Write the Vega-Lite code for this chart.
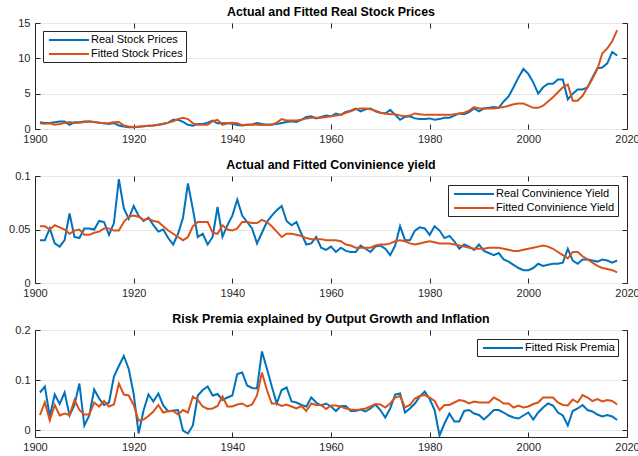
{
  "$schema": "https://vega.github.io/schema/vega-lite/v6.json",
  "background": "white",
  "padding": {"left": 8, "top": 5, "right": 5, "bottom": 5},
  "config": {
    "font": "Liberation Sans",
    "view": {"stroke": "#262626", "strokeWidth": 1},
    "axis": {"labelFont": "Liberation Sans", "labelFontSize": 11, "labelColor": "#262626", "domain": false, "tickColor": "#262626", "tickSize": -5, "title": null, "gridColor": "#e6e6e6", "gridWidth": 1},
    "axisX": {"labelFlush": false},
    "title": {"font": "Liberation Sans", "fontSize": 12.4, "fontWeight": "bold", "color": "#000000", "anchor": "middle", "offset": -1},
    "legend": {"fillColor": "white", "strokeColor": "#262626", "strokeWidth": 1, "padding": 3, "symbolType": "M0,0H8", "symbolSize": 100, "symbolStrokeWidth": 2, "labelFont": "Liberation Sans", "labelFontSize": 11, "labelColor": "#000000", "labelLimit": 300, "labelOffset": 36, "symbolOffset": -3, "rowPadding": 3, "title": null}
  },
  "datasets": {
    "p1": [
      {"Year":1901,"Real":0.94,"Fitted":0.8},{"Year":1902,"Real":0.85,"Fitted":0.75},{"Year":1903,"Real":0.85,"Fitted":0.8},{"Year":1904,"Real":0.95,"Fitted":0.6},{"Year":1905,"Real":1.05,"Fitted":0.7},{"Year":1906,"Real":1.05,"Fitted":0.85},{"Year":1907,"Real":0.6,"Fitted":1.0},{"Year":1908,"Real":0.95,"Fitted":0.85},{"Year":1909,"Real":0.95,"Fitted":0.9},{"Year":1910,"Real":1.05,"Fitted":1.0},
      {"Year":1911,"Real":1.05,"Fitted":1.05},{"Year":1912,"Real":1.0,"Fitted":1.0},{"Year":1913,"Real":0.9,"Fitted":0.9},{"Year":1914,"Real":0.8,"Fitted":0.8},{"Year":1915,"Real":0.7,"Fitted":0.85},{"Year":1916,"Real":0.85,"Fitted":0.95},{"Year":1917,"Real":0.5,"Fitted":1.0},{"Year":1918,"Real":0.35,"Fitted":0.5},{"Year":1919,"Real":0.25,"Fitted":0.35},{"Year":1920,"Real":0.25,"Fitted":0.3},
      {"Year":1921,"Real":0.3,"Fitted":0.35},{"Year":1922,"Real":0.4,"Fitted":0.4},{"Year":1923,"Real":0.45,"Fitted":0.45},{"Year":1924,"Real":0.5,"Fitted":0.5},{"Year":1925,"Real":0.6,"Fitted":0.6},{"Year":1926,"Real":0.7,"Fitted":0.75},{"Year":1927,"Real":0.9,"Fitted":0.9},{"Year":1928,"Real":1.3,"Fitted":1.1},{"Year":1929,"Real":1.3,"Fitted":1.4},{"Year":1930,"Real":1.0,"Fitted":1.6},
      {"Year":1931,"Real":0.6,"Fitted":1.4},{"Year":1932,"Real":0.45,"Fitted":0.8},{"Year":1933,"Real":0.7,"Fitted":0.6},{"Year":1934,"Real":0.7,"Fitted":0.6},{"Year":1935,"Real":0.9,"Fitted":0.6},{"Year":1936,"Real":1.2,"Fitted":1.1},{"Year":1937,"Real":0.8,"Fitted":1.3},{"Year":1938,"Real":0.8,"Fitted":0.6},{"Year":1939,"Real":0.8,"Fitted":0.8},{"Year":1940,"Real":0.75,"Fitted":0.9},
      {"Year":1941,"Real":0.55,"Fitted":0.8},{"Year":1942,"Real":0.5,"Fitted":0.55},{"Year":1943,"Real":0.6,"Fitted":0.6},{"Year":1944,"Real":0.65,"Fitted":0.65},{"Year":1945,"Real":0.85,"Fitted":0.6},{"Year":1946,"Real":0.7,"Fitted":0.55},{"Year":1947,"Real":0.6,"Fitted":0.6},{"Year":1948,"Real":0.65,"Fitted":0.6},{"Year":1949,"Real":0.7,"Fitted":0.9},{"Year":1950,"Real":0.85,"Fitted":1.4},
      {"Year":1951,"Real":1.0,"Fitted":1.2},{"Year":1952,"Real":1.1,"Fitted":1.2},{"Year":1953,"Real":1.0,"Fitted":1.2},{"Year":1954,"Real":1.3,"Fitted":1.3},{"Year":1955,"Real":1.7,"Fitted":1.5},{"Year":1956,"Real":1.8,"Fitted":1.6},{"Year":1957,"Real":1.5,"Fitted":1.6},{"Year":1958,"Real":1.7,"Fitted":1.6},{"Year":1959,"Real":1.9,"Fitted":1.7},{"Year":1960,"Real":1.8,"Fitted":1.8},
      {"Year":1961,"Real":2.2,"Fitted":1.9},{"Year":1962,"Real":2.0,"Fitted":2.0},{"Year":1963,"Real":2.4,"Fitted":2.3},{"Year":1964,"Real":2.6,"Fitted":2.5},{"Year":1965,"Real":2.9,"Fitted":2.8},{"Year":1966,"Real":2.5,"Fitted":2.9},{"Year":1967,"Real":2.8,"Fitted":2.9},{"Year":1968,"Real":2.9,"Fitted":2.8},{"Year":1969,"Real":2.5,"Fitted":2.6},{"Year":1970,"Real":2.3,"Fitted":2.3},
      {"Year":1971,"Real":2.2,"Fitted":2.2},{"Year":1972,"Real":2.7,"Fitted":2.1},{"Year":1973,"Real":2.0,"Fitted":2.1},{"Year":1974,"Real":1.3,"Fitted":1.9},{"Year":1975,"Real":1.7,"Fitted":1.8},{"Year":1976,"Real":1.8,"Fitted":1.9},{"Year":1977,"Real":1.5,"Fitted":2.2},{"Year":1978,"Real":1.4,"Fitted":2.1},{"Year":1979,"Real":1.4,"Fitted":2.0},{"Year":1980,"Real":1.5,"Fitted":2.0},
      {"Year":1981,"Real":1.3,"Fitted":2.0},{"Year":1982,"Real":1.4,"Fitted":2.0},{"Year":1983,"Real":1.6,"Fitted":2.0},{"Year":1984,"Real":1.6,"Fitted":2.0},{"Year":1985,"Real":1.9,"Fitted":2.1},{"Year":1986,"Real":2.2,"Fitted":2.2},{"Year":1987,"Real":2.1,"Fitted":2.3},{"Year":1988,"Real":2.4,"Fitted":2.6},{"Year":1989,"Real":2.9,"Fitted":3.1},{"Year":1990,"Real":2.5,"Fitted":2.9},
      {"Year":1991,"Real":2.9,"Fitted":2.9},{"Year":1992,"Real":3.0,"Fitted":2.9},{"Year":1993,"Real":3.1,"Fitted":2.9},{"Year":1994,"Real":3.0,"Fitted":3.0},{"Year":1995,"Real":3.9,"Fitted":3.1},{"Year":1996,"Real":4.6,"Fitted":3.3},{"Year":1997,"Real":5.9,"Fitted":3.5},{"Year":1998,"Real":7.3,"Fitted":3.6},{"Year":1999,"Real":8.5,"Fitted":3.6},{"Year":2000,"Real":7.8,"Fitted":3.3},
      {"Year":2001,"Real":6.6,"Fitted":3.0},{"Year":2002,"Real":5.0,"Fitted":3.0},{"Year":2003,"Real":5.9,"Fitted":3.3},{"Year":2004,"Real":6.4,"Fitted":3.9},{"Year":2005,"Real":6.4,"Fitted":4.5},{"Year":2006,"Real":7.0,"Fitted":5.2},{"Year":2007,"Real":7.0,"Fitted":5.9},{"Year":2008,"Real":4.2,"Fitted":6.3},{"Year":2009,"Real":5.0,"Fitted":4.0},{"Year":2010,"Real":5.6,"Fitted":4.0},
      {"Year":2011,"Real":5.6,"Fitted":4.7},{"Year":2012,"Real":5.9,"Fitted":5.9},{"Year":2013,"Real":7.3,"Fitted":7.1},{"Year":2014,"Real":8.6,"Fitted":8.5},{"Year":2015,"Real":8.7,"Fitted":10.7},{"Year":2016,"Real":9.3,"Fitted":11.4},{"Year":2017,"Real":10.9,"Fitted":12.4},{"Year":2018,"Real":10.4,"Fitted":14.0}
    ],
    "p2": [
      {"Year":1901,"Real":0.040,"Fitted":0.053},{"Year":1902,"Real":0.040,"Fitted":0.053},{"Year":1903,"Real":0.051,"Fitted":0.050},{"Year":1904,"Real":0.037,"Fitted":0.054},{"Year":1905,"Real":0.034,"Fitted":0.052},{"Year":1906,"Real":0.040,"Fitted":0.050},{"Year":1907,"Real":0.065,"Fitted":0.046},{"Year":1908,"Real":0.043,"Fitted":0.049},{"Year":1909,"Real":0.042,"Fitted":0.050},{"Year":1910,"Real":0.051,"Fitted":0.045},
      {"Year":1911,"Real":0.051,"Fitted":0.045},{"Year":1912,"Real":0.050,"Fitted":0.047},{"Year":1913,"Real":0.058,"Fitted":0.048},{"Year":1914,"Real":0.057,"Fitted":0.051},{"Year":1915,"Real":0.045,"Fitted":0.051},{"Year":1916,"Real":0.056,"Fitted":0.049},{"Year":1917,"Real":0.097,"Fitted":0.049},{"Year":1918,"Real":0.070,"Fitted":0.057},{"Year":1919,"Real":0.060,"Fitted":0.062},{"Year":1920,"Real":0.072,"Fitted":0.063},
      {"Year":1921,"Real":0.063,"Fitted":0.062},{"Year":1922,"Real":0.058,"Fitted":0.059},{"Year":1923,"Real":0.061,"Fitted":0.060},{"Year":1924,"Real":0.054,"Fitted":0.058},{"Year":1925,"Real":0.048,"Fitted":0.057},{"Year":1926,"Real":0.050,"Fitted":0.053},{"Year":1927,"Real":0.042,"Fitted":0.049},{"Year":1928,"Real":0.036,"Fitted":0.046},{"Year":1929,"Real":0.046,"Fitted":0.043},{"Year":1930,"Real":0.061,"Fitted":0.040},
      {"Year":1931,"Real":0.093,"Fitted":0.043},{"Year":1932,"Real":0.069,"Fitted":0.053},{"Year":1933,"Real":0.043,"Fitted":0.057},{"Year":1934,"Real":0.046,"Fitted":0.057},{"Year":1935,"Real":0.036,"Fitted":0.057},{"Year":1936,"Real":0.043,"Fitted":0.047},{"Year":1937,"Real":0.071,"Fitted":0.046},{"Year":1938,"Real":0.043,"Fitted":0.054},{"Year":1939,"Real":0.054,"Fitted":0.050},{"Year":1940,"Real":0.063,"Fitted":0.049},
      {"Year":1941,"Real":0.078,"Fitted":0.051},{"Year":1942,"Real":0.063,"Fitted":0.057},{"Year":1943,"Real":0.057,"Fitted":0.057},{"Year":1944,"Real":0.051,"Fitted":0.056},{"Year":1945,"Real":0.037,"Fitted":0.056},{"Year":1946,"Real":0.047,"Fitted":0.059},{"Year":1947,"Real":0.057,"Fitted":0.057},{"Year":1948,"Real":0.063,"Fitted":0.053},{"Year":1949,"Real":0.068,"Fitted":0.048},{"Year":1950,"Real":0.072,"Fitted":0.043},
      {"Year":1951,"Real":0.058,"Fitted":0.046},{"Year":1952,"Real":0.054,"Fitted":0.046},{"Year":1953,"Real":0.057,"Fitted":0.045},{"Year":1954,"Real":0.046,"Fitted":0.044},{"Year":1955,"Real":0.036,"Fitted":0.042},{"Year":1956,"Real":0.037,"Fitted":0.041},{"Year":1957,"Real":0.043,"Fitted":0.041},{"Year":1958,"Real":0.033,"Fitted":0.041},{"Year":1959,"Real":0.031,"Fitted":0.040},{"Year":1960,"Real":0.034,"Fitted":0.040},
      {"Year":1961,"Real":0.029,"Fitted":0.040},{"Year":1962,"Real":0.033,"Fitted":0.039},{"Year":1963,"Real":0.030,"Fitted":0.036},{"Year":1964,"Real":0.029,"Fitted":0.035},{"Year":1965,"Real":0.029,"Fitted":0.033},{"Year":1966,"Real":0.035,"Fitted":0.033},{"Year":1967,"Real":0.032,"Fitted":0.033},{"Year":1968,"Real":0.029,"Fitted":0.033},{"Year":1969,"Real":0.034,"Fitted":0.035},{"Year":1970,"Real":0.035,"Fitted":0.036},
      {"Year":1971,"Real":0.032,"Fitted":0.036},{"Year":1972,"Real":0.026,"Fitted":0.037},{"Year":1973,"Real":0.035,"Fitted":0.039},{"Year":1974,"Real":0.053,"Fitted":0.040},{"Year":1975,"Real":0.040,"Fitted":0.039},{"Year":1976,"Real":0.040,"Fitted":0.037},{"Year":1977,"Real":0.049,"Fitted":0.036},{"Year":1978,"Real":0.052,"Fitted":0.037},{"Year":1979,"Real":0.051,"Fitted":0.038},{"Year":1980,"Real":0.045,"Fitted":0.039},
      {"Year":1981,"Real":0.053,"Fitted":0.038},{"Year":1982,"Real":0.049,"Fitted":0.037},{"Year":1983,"Real":0.042,"Fitted":0.037},{"Year":1984,"Real":0.044,"Fitted":0.037},{"Year":1985,"Real":0.039,"Fitted":0.036},{"Year":1986,"Real":0.032,"Fitted":0.035},{"Year":1987,"Real":0.036,"Fitted":0.034},{"Year":1988,"Real":0.034,"Fitted":0.033},{"Year":1989,"Real":0.031,"Fitted":0.032},{"Year":1990,"Real":0.036,"Fitted":0.032},
      {"Year":1991,"Real":0.030,"Fitted":0.032},{"Year":1992,"Real":0.028,"Fitted":0.033},{"Year":1993,"Real":0.026,"Fitted":0.033},{"Year":1994,"Real":0.028,"Fitted":0.033},{"Year":1995,"Real":0.022,"Fitted":0.032},{"Year":1996,"Real":0.020,"Fitted":0.031},{"Year":1997,"Real":0.017,"Fitted":0.030},{"Year":1998,"Real":0.014,"Fitted":0.030},{"Year":1999,"Real":0.012,"Fitted":0.031},{"Year":2000,"Real":0.012,"Fitted":0.032},
      {"Year":2001,"Real":0.014,"Fitted":0.033},{"Year":2002,"Real":0.018,"Fitted":0.034},{"Year":2003,"Real":0.016,"Fitted":0.035},{"Year":2004,"Real":0.017,"Fitted":0.034},{"Year":2005,"Real":0.018,"Fitted":0.032},{"Year":2006,"Real":0.018,"Fitted":0.029},{"Year":2007,"Real":0.019,"Fitted":0.026},{"Year":2008,"Real":0.032,"Fitted":0.023},{"Year":2009,"Real":0.021,"Fitted":0.029},{"Year":2010,"Real":0.018,"Fitted":0.029},
      {"Year":2011,"Real":0.022,"Fitted":0.025},{"Year":2012,"Real":0.022,"Fitted":0.022},{"Year":2013,"Real":0.021,"Fitted":0.019},{"Year":2014,"Real":0.020,"Fitted":0.016},{"Year":2015,"Real":0.022,"Fitted":0.014},{"Year":2016,"Real":0.021,"Fitted":0.013},{"Year":2017,"Real":0.019,"Fitted":0.012},{"Year":2018,"Real":0.021,"Fitted":0.010}
    ],
    "p3": [
      {"Year":1901,"Real":0.075,"Fitted":0.030},{"Year":1902,"Real":0.087,"Fitted":0.055},{"Year":1903,"Real":0.027,"Fitted":0.019},{"Year":1904,"Real":0.071,"Fitted":0.050},{"Year":1905,"Real":0.052,"Fitted":0.029},{"Year":1906,"Real":0.075,"Fitted":0.033},{"Year":1907,"Real":0.029,"Fitted":0.030},{"Year":1908,"Real":0.050,"Fitted":0.060},{"Year":1909,"Real":0.093,"Fitted":0.040},{"Year":1910,"Real":0.009,"Fitted":0.031},
      {"Year":1911,"Real":0.029,"Fitted":0.031},{"Year":1912,"Real":0.081,"Fitted":0.055},{"Year":1913,"Real":0.063,"Fitted":0.047},{"Year":1914,"Real":0.050,"Fitted":0.058},{"Year":1915,"Real":0.055,"Fitted":0.047},{"Year":1916,"Real":0.107,"Fitted":0.051},{"Year":1917,"Real":0.128,"Fitted":0.093},{"Year":1918,"Real":0.148,"Fitted":0.071},{"Year":1919,"Real":0.122,"Fitted":0.069},{"Year":1920,"Real":0.072,"Fitted":0.050},
      {"Year":1921,"Real":-0.007,"Fitted":0.019},{"Year":1922,"Real":0.039,"Fitted":0.021},{"Year":1923,"Real":0.071,"Fitted":0.028},{"Year":1924,"Real":0.057,"Fitted":0.037},{"Year":1925,"Real":0.073,"Fitted":0.050},{"Year":1926,"Real":0.049,"Fitted":0.035},{"Year":1927,"Real":0.037,"Fitted":0.038},{"Year":1928,"Real":0.039,"Fitted":0.038},{"Year":1929,"Real":0.040,"Fitted":0.031},{"Year":1930,"Real":-0.001,"Fitted":0.040},
      {"Year":1931,"Real":-0.007,"Fitted":0.035},{"Year":1932,"Real":0.009,"Fitted":0.067},{"Year":1933,"Real":0.069,"Fitted":0.060},{"Year":1934,"Real":0.080,"Fitted":0.047},{"Year":1935,"Real":0.087,"Fitted":0.042},{"Year":1936,"Real":0.069,"Fitted":0.043},{"Year":1937,"Real":0.072,"Fitted":0.048},{"Year":1938,"Real":0.060,"Fitted":0.067},{"Year":1939,"Real":0.065,"Fitted":0.047},{"Year":1940,"Real":0.069,"Fitted":0.047},
      {"Year":1941,"Real":0.112,"Fitted":0.051},{"Year":1942,"Real":0.115,"Fitted":0.053},{"Year":1943,"Real":0.089,"Fitted":0.047},{"Year":1944,"Real":0.084,"Fitted":0.051},{"Year":1945,"Real":0.083,"Fitted":0.069},{"Year":1946,"Real":0.157,"Fitted":0.115},{"Year":1947,"Real":0.123,"Fitted":0.080},{"Year":1948,"Real":0.087,"Fitted":0.053},{"Year":1949,"Real":0.053,"Fitted":0.053},{"Year":1950,"Real":0.080,"Fitted":0.048},
      {"Year":1951,"Real":0.085,"Fitted":0.051},{"Year":1952,"Real":0.057,"Fitted":0.047},{"Year":1953,"Real":0.055,"Fitted":0.043},{"Year":1954,"Real":0.050,"Fitted":0.048},{"Year":1955,"Real":0.047,"Fitted":0.038},{"Year":1956,"Real":0.065,"Fitted":0.053},{"Year":1957,"Real":0.055,"Fitted":0.050},{"Year":1958,"Real":0.049,"Fitted":0.050},{"Year":1959,"Real":0.053,"Fitted":0.042},{"Year":1960,"Real":0.047,"Fitted":0.049},
      {"Year":1961,"Real":0.038,"Fitted":0.049},{"Year":1962,"Real":0.048,"Fitted":0.047},{"Year":1963,"Real":0.048,"Fitted":0.043},{"Year":1964,"Real":0.038,"Fitted":0.041},{"Year":1965,"Real":0.038,"Fitted":0.040},{"Year":1966,"Real":0.041,"Fitted":0.041},{"Year":1967,"Real":0.037,"Fitted":0.043},{"Year":1968,"Real":0.043,"Fitted":0.047},{"Year":1969,"Real":0.051,"Fitted":0.052},{"Year":1970,"Real":0.040,"Fitted":0.051},
      {"Year":1971,"Real":0.025,"Fitted":0.045},{"Year":1972,"Real":0.043,"Fitted":0.053},{"Year":1973,"Real":0.071,"Fitted":0.065},{"Year":1974,"Real":0.073,"Fitted":0.068},{"Year":1975,"Real":0.035,"Fitted":0.045},{"Year":1976,"Real":0.043,"Fitted":0.050},{"Year":1977,"Real":0.053,"Fitted":0.063},{"Year":1978,"Real":0.067,"Fitted":0.068},{"Year":1979,"Real":0.077,"Fitted":0.070},{"Year":1980,"Real":0.062,"Fitted":0.065},
      {"Year":1981,"Real":0.040,"Fitted":0.058},{"Year":1982,"Real":-0.011,"Fitted":0.040},{"Year":1983,"Real":0.013,"Fitted":0.050},{"Year":1984,"Real":0.033,"Fitted":0.050},{"Year":1985,"Real":0.017,"Fitted":0.055},{"Year":1986,"Real":0.017,"Fitted":0.060},{"Year":1987,"Real":0.038,"Fitted":0.058},{"Year":1988,"Real":0.040,"Fitted":0.053},{"Year":1989,"Real":0.033,"Fitted":0.057},{"Year":1990,"Real":0.030,"Fitted":0.055},
      {"Year":1991,"Real":0.021,"Fitted":0.055},{"Year":1992,"Real":0.030,"Fitted":0.055},{"Year":1993,"Real":0.040,"Fitted":0.065},{"Year":1994,"Real":0.040,"Fitted":0.060},{"Year":1995,"Real":0.035,"Fitted":0.053},{"Year":1996,"Real":0.029,"Fitted":0.053},{"Year":1997,"Real":0.025,"Fitted":0.045},{"Year":1998,"Real":0.023,"Fitted":0.049},{"Year":1999,"Real":0.029,"Fitted":0.045},{"Year":2000,"Real":0.035,"Fitted":0.047},
      {"Year":2001,"Real":0.021,"Fitted":0.052},{"Year":2002,"Real":0.035,"Fitted":0.055},{"Year":2003,"Real":0.045,"Fitted":0.065},{"Year":2004,"Real":0.053,"Fitted":0.065},{"Year":2005,"Real":0.049,"Fitted":0.065},{"Year":2006,"Real":0.035,"Fitted":0.055},{"Year":2007,"Real":0.029,"Fitted":0.050},{"Year":2008,"Real":0.009,"Fitted":0.049},{"Year":2009,"Real":0.038,"Fitted":0.061},{"Year":2010,"Real":0.043,"Fitted":0.055},
      {"Year":2011,"Real":0.050,"Fitted":0.070},{"Year":2012,"Real":0.040,"Fitted":0.065},{"Year":2013,"Real":0.037,"Fitted":0.058},{"Year":2014,"Real":0.031,"Fitted":0.062},{"Year":2015,"Real":0.027,"Fitted":0.057},{"Year":2016,"Real":0.030,"Fitted":0.060},{"Year":2017,"Real":0.027,"Fitted":0.058},{"Year":2018,"Real":0.020,"Fitted":0.051}
    ]
  },
  "bounds": "flush",
  "spacing": 47,
  "vconcat": [
    {
      "title": "Actual and Fitted Real Stock Prices",
      "width": 592, "height": 106,
      "data": {"name": "p1"},
      "layer": [
        {
          "mark": {"type": "line", "strokeWidth": 2, "clip": true},
          "encoding": {
            "x": {"field": "Year", "type": "quantitative", "scale": {"domain": [1900, 2020], "nice": false}, "axis": {"orient": "bottom", "values": [1900, 1920, 1940, 1960, 1980, 2000, 2020], "format": "d", "grid": false, "labelPadding": 9}},
            "y": {"field": "Real", "type": "quantitative", "scale": {"domain": [0, 15], "nice": false, "zero": false}, "axis": {"orient": "left", "values": [0, 5, 10, 15], "grid": true, "labelPadding": 10}},
            "color": {"datum": "Real Stock Prices", "type": "nominal", "scale": {"domain": ["Real Stock Prices", "Fitted Stock Prices"], "range": ["#0072BD", "#D95319"]}, "legend": {"orient": "top-left", "offset": 8}}
          }
        },
        {
          "mark": {"type": "line", "strokeWidth": 2, "clip": true},
          "encoding": {
            "x": {"field": "Year", "type": "quantitative", "axis": {"orient": "top", "values": [1900, 1920, 1940, 1960, 1980, 2000, 2020], "labels": false, "grid": false}},
            "y": {"field": "Fitted", "type": "quantitative", "axis": {"orient": "right", "values": [0, 5, 10, 15], "labels": false, "grid": false}},
            "color": {"datum": "Fitted Stock Prices", "type": "nominal"}
          }
        }
      ],
      "resolve": {"axis": {"x": "independent", "y": "independent"}}
    },
    {
      "title": "Actual and Fitted Convinience yield",
      "width": 592, "height": 107,
      "data": {"name": "p2"},
      "layer": [
        {
          "mark": {"type": "line", "strokeWidth": 2, "clip": true},
          "encoding": {
            "x": {"field": "Year", "type": "quantitative", "scale": {"domain": [1900, 2020], "nice": false}, "axis": {"orient": "bottom", "values": [1900, 1920, 1940, 1960, 1980, 2000, 2020], "format": "d", "grid": false, "labelPadding": 9}},
            "y": {"field": "Real", "type": "quantitative", "scale": {"domain": [0, 0.1], "nice": false, "zero": false}, "axis": {"orient": "left", "values": [0, 0.05, 0.1], "grid": true, "labelPadding": 10, "labelExpr": "datum.value === 0 ? '0' : format(datum.value, '.2~f')"}},
            "color": {"datum": "Real Convinience Yield", "type": "nominal", "scale": {"domain": ["Real Convinience Yield", "Fitted Convinience Yield"], "range": ["#0072BD", "#D95319"]}, "legend": {"orient": "top-right", "offset": 9}}
          }
        },
        {
          "mark": {"type": "line", "strokeWidth": 2, "clip": true},
          "encoding": {
            "x": {"field": "Year", "type": "quantitative", "axis": {"orient": "top", "values": [1900, 1920, 1940, 1960, 1980, 2000, 2020], "labels": false, "grid": false}},
            "y": {"field": "Fitted", "type": "quantitative", "axis": {"orient": "right", "values": [0, 0.05, 0.1], "labels": false, "grid": false}},
            "color": {"datum": "Fitted Convinience Yield", "type": "nominal"}
          }
        }
      ],
      "resolve": {"axis": {"x": "independent", "y": "independent"}}
    },
    {
      "title": "Risk Premia explained by Output Growth and Inflation",
      "width": 592, "height": 107,
      "data": {"name": "p3"},
      "layer": [
        {
          "mark": {"type": "line", "strokeWidth": 2, "clip": true},
          "encoding": {
            "x": {"field": "Year", "type": "quantitative", "scale": {"domain": [1900, 2020], "nice": false}, "axis": {"orient": "bottom", "values": [1900, 1920, 1940, 1960, 1980, 2000, 2020], "format": "d", "grid": false, "labelPadding": 9}},
            "y": {"field": "Real", "type": "quantitative", "scale": {"domain": [-0.014, 0.2], "nice": false, "zero": false}, "axis": {"orient": "left", "values": [0, 0.1, 0.2], "grid": true, "labelPadding": 10, "labelExpr": "datum.value === 0 ? '0' : format(datum.value, '.1f')"}},
            "color": {"datum": "Fitted Risk Premia", "type": "nominal", "scale": {"domain": ["Fitted Risk Premia"], "range": ["#0072BD"]}, "legend": {"orient": "top-right", "offset": 9}}
          }
        },
        {
          "mark": {"type": "line", "strokeWidth": 2, "clip": true, "color": "#D95319"},
          "encoding": {
            "x": {"field": "Year", "type": "quantitative", "axis": {"orient": "top", "values": [1900, 1920, 1940, 1960, 1980, 2000, 2020], "labels": false, "grid": false}},
            "y": {"field": "Fitted", "type": "quantitative", "axis": {"orient": "right", "values": [0, 0.1, 0.2], "labels": false, "grid": false}}
          }
        }
      ],
      "resolve": {"axis": {"x": "independent", "y": "independent"}}
    }
  ],
  "resolve": {"scale": {"color": "independent", "x": "independent", "y": "independent"}, "legend": {"color": "independent"}}
}
